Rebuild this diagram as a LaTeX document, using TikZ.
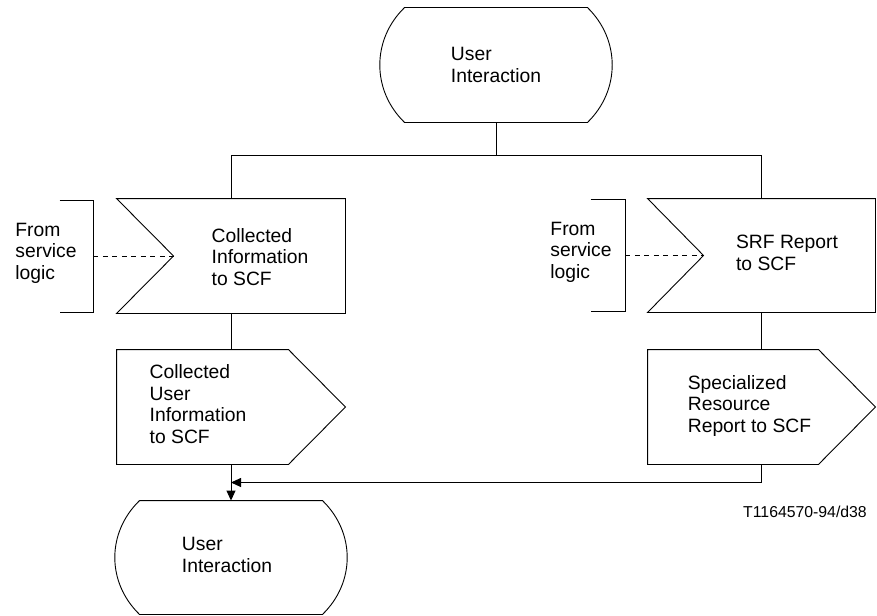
\documentclass[tikz,border=0pt]{standalone}
\usepackage{fontspec}
\setmainfont{Liberation Sans}
\usepackage{tikz}
\usetikzlibrary{positioning, arrows.meta, calc}

\begin{document}
\begin{tikzpicture}[x=1pt, y=-1pt, line width=0.9pt,
    box/.style={rectangle, inner sep=0pt},
    txt/.style={font=\fontsize{19.3}{21.6}\selectfont, align=left, inner sep=0pt},
    arr/.style={-{Triangle[length=10pt, width=9pt]}}]
  \useasboundingbox (0,0) rectangle (877,615);
  % State boxes (user interaction)
  \node[box, txt, minimum width=182pt, minimum height=114pt] (ui1) at (496,65) {User\\Interaction};
  \node[box, minimum width=182pt, minimum height=113pt] (ui2) at (231,557.5) {};
  \node[txt] (ui2txt) at (227,555) {User\\Interaction};
  \draw (ui1.north west) -- (ui1.north east)
    .. controls ($(ui1.north east)+(33,32)$) and ($(ui1.south east)+(33,-32)$) .. (ui1.south east)
    -- (ui1.south west)
    .. controls ($(ui1.south west)+(-33,-32)$) and ($(ui1.north west)+(-33,32)$) .. (ui1.north west);
  \draw (ui2.north west) -- (ui2.north east)
    .. controls ($(ui2.north east)+(33,32)$) and ($(ui2.south east)+(33,-32)$) .. (ui2.south east)
    -- (ui2.south west)
    .. controls ($(ui2.south west)+(-33,-32)$) and ($(ui2.north west)+(-33,32)$) .. (ui2.north west);
  % Input signals
  \node[box, minimum width=228pt, minimum height=114pt] (sig1) at (231,256) {};
  \node[box, minimum width=227pt, minimum height=113pt] (sig2) at (761.5,255.5) {};
  \coordinate (nt1) at ($(sig1.west)+(57,0)$);
  \coordinate (nt2) at ($(sig2.west)+(56,0)$);
  \draw (sig1.north west) -- (sig1.north east) -- (sig1.south east) -- (sig1.south west) -- (nt1) -- cycle;
  \draw (sig2.north west) -- (sig2.north east) -- (sig2.south east) -- (sig2.south west) -- (nt2) -- cycle;
  \node[txt] (sig1txt) at (260,257) {Collected\\Information\\to SCF};
  \node[txt] (sig2txt) at (787,253) {SRF Report\\to SCF};
  % Output signals
  \node[box, minimum width=228pt, minimum height=114pt] (out1) at (231,407) {};
  \node[box, minimum width=227pt, minimum height=114pt] (out2) at (761.5,407) {};
  \draw (out1.north west) -- ($(out1.north east)+(-57,0)$) -- (out1.east)
    -- ($(out1.south east)+(-57,0)$) -- (out1.south west) -- cycle;
  \draw (out2.north west) -- ($(out2.north east)+(-57,0)$) -- (out2.east)
    -- ($(out2.south east)+(-57,0)$) -- (out2.south west) -- cycle;
  \node[txt] (out1txt) at (198,404) {Collected\\User\\Information\\to SCF};
  \node[txt] (out2txt) at (749.5,406) {Specialized\\Resource\\Report to SCF};
  % Brackets from service logic
  \node[box, minimum width=33pt, minimum height=111pt] (brk1) at (76.5,256) {};
  \node[box, minimum width=34pt, minimum height=111pt] (brk2) at (608,255.5) {};
  \draw (brk1.north west) -- (brk1.north east) -- (brk1.south east) -- (brk1.south west);
  \draw (brk2.north west) -- (brk2.north east) -- (brk2.south east) -- (brk2.south west);
  \node[txt, anchor=west] (from1) at (15,253) {From\\service\\logic};
  \node[txt, anchor=west] (from2) at (550,252) {From\\service\\logic};
  \draw[dash pattern=on 5pt off 4.5pt] (brk1.east) -- (nt1);
  \draw[dash pattern=on 5pt off 4.5pt] (brk2.east) -- (nt2);
  % Connectors
  \coordinate (split) at (496,155);
  \coordinate (merge) at ($(out1.south)!0.5!(ui2.north)$);
  \draw (ui1.south) -- (split);
  \draw (sig1.north) -- (sig1.north |- split) -- (sig2.north |- split) -- (sig2.north);
  \draw (sig1.south) -- (out1.north);
  \draw (sig2.south) -- (out2.north);
  \draw[arr] (out1.south) -- (ui2.north);
  \draw[arr] (out2.south) |- (merge);
  % Figure reference
  \node[font=\fontsize{15.8}{18}\selectfont, inner sep=0pt] (ref) at (805,512) {T1164570-94/d38};
\end{tikzpicture}
\end{document}
